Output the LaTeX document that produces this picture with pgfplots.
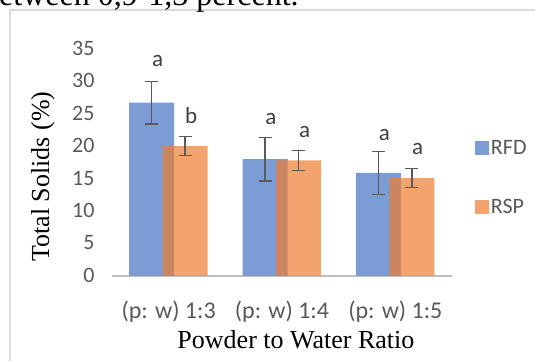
\documentclass[border=0pt]{standalone}
\usepackage{fontspec}
\usepackage{pgfplots}
\pgfplotsset{compat=1.18}
\setmainfont{Liberation Serif}
\newfontfamily\calibri{Carlito}
\definecolor{xblue}{HTML}{4472C4}
\definecolor{xorange}{HTML}{ED7D31}
\definecolor{tickgray}{RGB}{89,89,89}
\definecolor{letgray}{RGB}{64,64,64}
\definecolor{errgray}{RGB}{90,90,90}
\definecolor{framegray}{RGB}{217,217,217}
\definecolor{axgray}{RGB}{191,191,191}
\begin{document}
\begin{tikzpicture}[x=1pt,y=1pt]
\useasboundingbox (0,0) rectangle (535,360);
\fill[white] (0,0) rectangle (535,360);
\draw[framegray, line width=1.5pt] (10,-10) -- (10,350) -- (545,350);
\node[anchor=base west, font=\fontsize{32}{36}\selectfont, inner sep=0pt] at (-17,355) {between 0,9-1,3 percent.};
\begin{axis}[
  at={(112pt,84.5pt)}, anchor=south west,
  scale only axis, width=340pt, height=227.5pt,
  xmin=-0.5, xmax=2.5, ymin=0, ymax=35,
  ybar,
  axis x line*=bottom, axis y line*=left,
  x axis line style={draw=axgray, line width=2pt, -},
  y axis line style={draw=none},
  tick style={draw=none},
  ytick={0,5,...,35},
  xtick={0,1,2},
  xticklabels={(p: w) 1:3,(p: w) 1:4,(p: w) 1:5},
  ticklabel style={font=\calibri\fontsize{22}{24}\selectfont, text=tickgray},
  /pgf/number format/assume math mode=true,
  yticklabel style={xshift=-14pt},
  xticklabel style={yshift=-18pt, font=\calibri\fontsize{24}{26}\selectfont},
  xlabel={Powder to Water Ratio},
  ylabel={Total Solids (\%)},
  label style={font=\fontsize{26}{30}\selectfont, text=black},
  xlabel style={at={(rel axis cs:0.541,-0.323)}, anchor=base},
  ylabel style={at={(rel axis cs:-0.203,0.435)}, anchor=center},
  legend style={at={(rel axis cs:1.067,0.431)}, anchor=west, draw=none, fill=none,
    font=\calibri\fontsize{22}{24}\selectfont, text=tickgray, row sep=39pt, inner sep=0pt},
  legend cell align=left,
  legend image code/.code={\fill[#1] (-6pt,-7pt) rectangle (8pt,7pt);},
  clip=false,
]
\addplot[fill=xblue, fill opacity=0.7, draw=none, bar shift=-17pt, bar width=45pt,
  error bars/.cd, y dir=both, y explicit,
  error bar style={draw=errgray, line width=1.6pt, opacity=1},
  error mark options={draw=errgray, line width=1.3pt, mark size=6.5pt, rotate=90}]
  coordinates {(0,26.6) +- (0,3.3) (1,17.9) +- (0,3.35) (2,15.8) +- (0,3.3)};
\addplot[fill=xorange, fill opacity=0.7, draw=none, bar shift=16.5pt, bar width=45pt,
  error bars/.cd, y dir=both, y explicit,
  error bar style={draw=errgray, line width=1.6pt, opacity=1},
  error mark options={draw=errgray, line width=1.3pt, mark size=6.5pt, rotate=90}]
  coordinates {(0,19.9) +- (0,1.45) (1,17.7) +- (0,1.5) (2,15.0) +- (0,1.5)};
\addplot[only marks, mark=none, forget plot, nodes near coords, point meta=explicit symbolic,
  nodes near coords style={anchor=center, font=\calibri\fontsize{23}{25}\selectfont, text=letgray}]
  coordinates {(-0.15,33.0) [a] (0.145,24.6) [b] (0.85,24.1) [a] (1.146,22.1) [a] (1.85,21.6) [a] (2.143,19.5) [a]};
\legend{RFD,RSP}
\end{axis}
\end{tikzpicture}
\end{document}
